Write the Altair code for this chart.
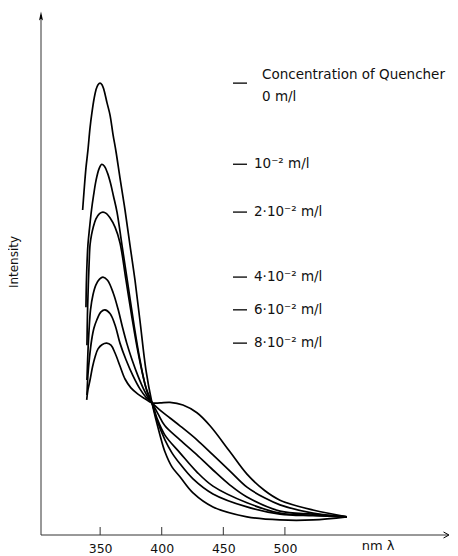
import altair as alt
import pandas as pd

# ---- data (wavelength in nm, intensity in arbitrary units) ----
series_labels = ["0 m/l", "10⁻² m/l", "2·10⁻² m/l", "4·10⁻² m/l", "6·10⁻² m/l", "8·10⁻² m/l"]
header = "Concentration of Quencher"

nm_0 = [335.8, 336.9, 338.5, 340.1, 341.8, 343.4, 345.0, 346.6, 348.3, 349.9, 351.5, 353.1,
        355.6, 358.0, 360.4, 362.9, 366.1, 370.2, 374.2, 378.3, 382.3, 387.2, 392.1,
        398.6, 402.6, 408.3, 414.8, 425.4, 441.6, 469.2, 496.0, 522.8, 550.3]
int_0 = [62.5, 66.0, 70.6, 74.0, 78.3, 81.3, 83.8, 85.6, 86.6, 86.9, 86.6, 85.6,
         83.1, 80.8, 77.1, 73.7, 68.7, 62.5, 55.8, 49.0, 41.3, 31.7, 25.4,
         19.2, 16.0, 13.1, 11.2, 8.1, 5.4, 3.5, 2.9, 2.9, 3.5]

nm_1 = [338.5, 338.8, 339.3, 340.1, 341.4, 343.0, 344.6, 346.6, 349.1, 351.3, 353.5, 356.0,
        358.4, 360.8, 363.7, 367.7, 372.6, 377.5, 382.3, 387.2, 392.1,
        396.1, 402.6, 408.3, 414.8, 425.4, 441.6, 469.2, 496.0, 522.8, 550.3]
int_1 = [43.8, 48.1, 51.9, 55.8, 59.0, 62.5, 65.2, 68.1, 70.4, 71.3, 70.9, 69.6,
         67.7, 65.2, 62.1, 55.8, 48.1, 40.4, 33.7, 28.3, 25.4,
         22.1, 18.3, 15.8, 13.7, 10.8, 7.9, 5.4, 4.0, 3.7, 3.5]

nm_2 = [339.3, 339.7, 340.4, 341.1, 341.8, 343.0, 344.4, 346.6, 349.5, 352.3, 355.2, 358.0,
        362.1, 366.1, 371.0, 375.9, 380.7, 385.6, 388.8, 392.1,
        396.1, 402.6, 414.8, 428.6, 441.6, 469.2, 496.0, 522.8, 550.3]
int_2 = [36.5, 42.3, 48.1, 52.5, 55.8, 57.7, 59.2, 60.8, 61.8, 62.1, 61.8, 61.0,
         59.2, 56.2, 49.0, 41.7, 35.2, 29.8, 27.1, 25.4,
         22.5, 19.2, 15.8, 12.1, 9.4, 6.2, 4.2, 3.8, 3.5]

nm_3 = [339.3, 340.1, 341.0, 342.2, 344.2, 346.6, 349.5, 352.3, 356.0, 360.7, 364.7, 368.1,
        371.6, 375.9, 380.7, 385.6, 388.8, 392.1,
        397.0, 402.6, 414.8, 428.6, 441.6, 455.4, 469.2, 496.0, 522.8, 550.3]
int_3 = [29.8, 35.2, 39.4, 43.3, 46.2, 48.1, 49.2, 49.6, 49.0, 46.5, 43.3, 40.0,
         36.9, 33.7, 30.6, 27.9, 26.5, 25.4,
         23.3, 21.0, 18.3, 15.4, 12.5, 9.6, 7.3, 4.6, 4.0, 3.5]

nm_4 = [339.3, 340.1, 341.4, 343.1, 345.0, 347.2, 350.7, 353.9, 358.0, 362.1, 366.1, 371.0,
        376.7, 382.3, 387.2, 392.1,
        398.6, 406.7, 414.8, 428.6, 441.6, 455.4, 469.2, 483.8, 496.0, 522.8, 550.3]
int_4 = [26.9, 30.8, 34.2, 37.5, 39.8, 41.3, 42.9, 43.3, 42.6, 40.4, 36.9, 33.7,
         30.6, 28.1, 26.5, 25.4,
         24.0, 22.5, 21.0, 18.3, 15.4, 12.3, 9.2, 7.1, 5.8, 4.2, 3.5]

nm_5 = [339.1, 340.1, 341.8, 343.8, 345.8, 348.3, 351.5, 355.3, 358.8, 362.1, 366.1, 370.2,
        375.0, 380.7, 386.4, 392.1,
        398.6, 406.7, 417.2, 428.6, 439.2, 455.4, 469.2, 483.8, 496.0, 522.8, 550.3]
int_5 = [26.0, 27.9, 29.8, 32.3, 34.2, 35.8, 36.6, 36.9, 36.5, 35.0, 32.5, 30.0,
         28.3, 27.1, 26.2, 25.4,
         25.4, 25.5, 25.0, 23.5, 21.0, 16.0, 11.7, 8.5, 6.7, 4.8, 3.5]

tick_values = [350, 400, 450, 500]

all_nm = [nm_0, nm_1, nm_2, nm_3, nm_4, nm_5]
all_int = [int_0, int_1, int_2, int_3, int_4, int_5]

rows = []
for k, (xs, ys) in enumerate(zip(all_nm, all_int)):
    for x, y in zip(xs, ys):
        rows.append({"series": k, "nm": x, "I": y})
df = pd.DataFrame(rows)

legend_df = pd.DataFrame({
    "label": series_labels,
    "peak": [max(v) for v in all_int],
})
first_df = legend_df.iloc[[0]].assign(head=header)
rest_df = legend_df.iloc[1:]
tick_df = pd.DataFrame({"tick": tick_values})
one = pd.DataFrame({"a": [0]})

FONT = "DejaVu Sans"
INK = "#111111"
W, H = 409, 520

xscale = alt.Scale(domain=[302, 634], nice=False, zero=False)
yscale = alt.Scale(domain=[0, 100], nice=False, zero=False)

lines = alt.Chart(df).mark_line(
    interpolate="catmull-rom", color="black", strokeWidth=1.7
).encode(
    x=alt.X("nm:Q", scale=xscale,
            axis=alt.Axis(values=tick_values, ticks=False, domain=False, grid=False,
                          labelFont=FONT, labelFontSize=12.5, labelColor=INK,
                          labelPadding=7, title=None)),
    y=alt.Y("I:Q", scale=yscale, axis=None),
    detail="series:N",
)

# axes drawn by hand (arrows)
y_axis = alt.Chart(one).mark_rule(color="#333333", strokeWidth=1).encode(
    x=alt.value(0), y=alt.value(0), y2=alt.value(H))
x_axis = alt.Chart(one).mark_rule(color="#333333", strokeWidth=1).encode(
    x=alt.value(0), x2=alt.value(W - 2), y=alt.value(H))
y_arrow = alt.Chart(one).mark_point(
    shape="M0,-1L0.45,1L0,0.6L-0.45,1Z", filled=True, color="black", size=80, opacity=1
).encode(x=alt.value(0), y=alt.value(1))
x_arrow = alt.Chart(one).mark_point(
    shape="M-1,-0.55L0,0L-1,0.55", filled=False, color="black", size=120,
    strokeWidth=1, opacity=1
).encode(x=alt.value(W - 1), y=alt.value(H))
ticks = alt.Chart(tick_df).mark_rule(color="#333333", strokeWidth=1).encode(
    x=alt.X("tick:Q", scale=xscale), y=alt.value(H), y2=alt.value(H - 8))

nm_label = alt.Chart(one).mark_text(
    text="nm λ", font=FONT, fontSize=13, color=INK, align="center", baseline="middle"
).encode(x=alt.value(337), y=alt.value(H + 11))
int_label = alt.Chart(one).mark_text(
    text="Intensity", font=FONT, fontSize=12, color=INK, align="center",
    baseline="middle", angle=270
).encode(x=alt.value(-27), y=alt.value(247))

# legend aligned with each curve's peak
dashes = alt.Chart(legend_df).mark_rule(color="black", strokeWidth=1.3).encode(
    x=alt.value(192), x2=alt.value(206), y=alt.Y("peak:Q", scale=yscale))
leg_text = alt.Chart(rest_df).mark_text(
    font=FONT, fontSize=13.5, color=INK, align="left", baseline="middle"
).encode(x=alt.value(213), y=alt.Y("peak:Q", scale=yscale), text="label:N")
head_text = alt.Chart(first_df).mark_text(
    font=FONT, fontSize=13.5, color=INK, align="left", baseline="middle", dy=-8
).encode(x=alt.value(221), y=alt.Y("peak:Q", scale=yscale), text="head:N")
zero_text = alt.Chart(first_df).mark_text(
    font=FONT, fontSize=13.5, color=INK, align="left", baseline="middle", dy=14
).encode(x=alt.value(221), y=alt.Y("peak:Q", scale=yscale), text="label:N")

chart = alt.layer(
    lines, y_axis, x_axis, y_arrow, x_arrow, ticks, nm_label, int_label,
    dashes, leg_text, head_text, zero_text
).properties(
    width=W, height=H,
    autosize=alt.AutoSizeParams(type="none"),
    padding={"left": 33, "top": 7, "right": 0, "bottom": 21},
    background="white",
).configure_view(stroke=None)

chart.save("out.html", embed_options={"renderer": "svg", "actions": False})
